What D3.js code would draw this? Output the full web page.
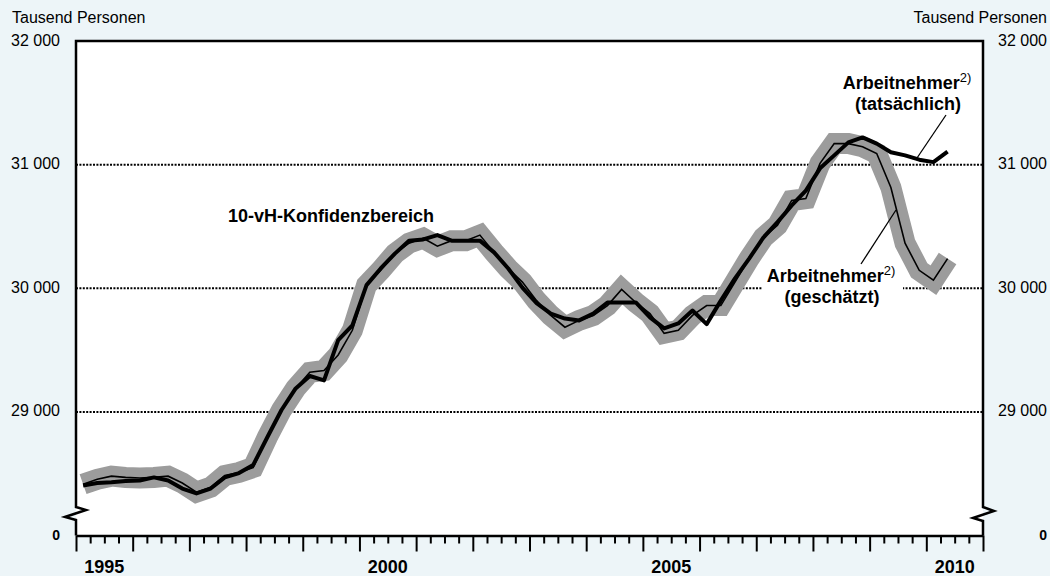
<!DOCTYPE html>
<html>
<head>
<meta charset="utf-8">
<script src="https://cdn.jsdelivr.net/npm/d3@7"></script>
<style>
  body { margin: 0; background: #edf5f8; }
  svg text { font-family: "Liberation Sans", Arial, sans-serif; fill: #000; }
</style>
</head>
<body>
<div id="chart"></div>
<script>
// quarterly values, thousand persons
var quarters = [
  "1995-1", "1995-2", "1995-3", "1995-4",
  "1996-1", "1996-2", "1996-3", "1996-4",
  "1997-1", "1997-2", "1997-3", "1997-4",
  "1998-1", "1998-2", "1998-3", "1998-4",
  "1999-1", "1999-2", "1999-3", "1999-4",
  "2000-1", "2000-2", "2000-3", "2000-4",
  "2001-1", "2001-2", "2001-3", "2001-4",
  "2002-1", "2002-2", "2002-3", "2002-4",
  "2003-1", "2003-2", "2003-3", "2003-4",
  "2004-1", "2004-2", "2004-3", "2004-4",
  "2005-1", "2005-2", "2005-3", "2005-4",
  "2006-1", "2006-2", "2006-3", "2006-4",
  "2007-1", "2007-2", "2007-3", "2007-4",
  "2008-1", "2008-2", "2008-3", "2008-4",
  "2009-1", "2009-2", "2009-3", "2009-4",
  "2010-1", "2010-2"
];

// Arbeitnehmer (tatsächlich)
var actual = [
  28405, 28425, 28430, 28440,
  28445, 28470, 28445, 28380,
  28340, 28380, 28470, 28505,
  28570, 28795, 29015, 29190,
  29290, 29255, 29580, 29700,
  30025, 30160, 30280, 30385,
  30395, 30430, 30385, 30385,
  30385, 30290, 30160, 30005,
  29880, 29795, 29755, 29740,
  29795, 29885, 29885, 29885,
  29765, 29675, 29715, 29820,
  29710, 29900, 30080, 30240,
  30410, 30535, 30670, 30790,
  30970, 31075, 31180, 31220,
  31170, 31100, 31075, 31040,
  31020, 31105
];

// Arbeitnehmer (geschätzt), centre of the 10-vH band
var estimated = [
  28415, 28455, 28480, 28470,
  28465, 28470, 28480, 28425,
  28350, 28390, 28485, 28510,
  28550, 28795, 29015, 29190,
  29320, 29335, 29460, 29660,
  30025, 30145, 30280, 30365,
  30405, 30340, 30385, 30385,
  30430, 30290, 30160, 30050,
  29900, 29780, 29685, 29740,
  29780, 29860, 29990, 29885,
  29795, 29635, 29660, 29780,
  29860, 29860, 30050, 30240,
  30410, 30510, 30710, 30725,
  31010, 31170, 31170, 31145,
  31090, 30815, 30365, 30145,
  30065, 30240
];

var gridValues = [29000, 30000, 31000];
var yTickValues = [29000, 30000, 31000, 32000];
var yearLabels = [1995, 2000, 2005, 2010];

(function () {
  'use strict';

  var firstYear = 1995, lastYear = 2011;
  var yBase = 28000, yTop = 32000;

  var width = 1050, height = 576;
  var plot = { left: 76, right: 983, top: 41, bottom: 535.5 };

  var svg = d3.select("#chart").append("svg")
    .attr("width", width)
    .attr("height", height);

  svg.append("rect")
    .attr("width", width)
    .attr("height", height)
    .attr("fill", "#edf5f8");

  var x = d3.scaleLinear().domain([firstYear, lastYear]).range([plot.left, plot.right]);
  var y = d3.scaleLinear().domain([yBase, yTop]).range([plot.bottom, plot.top]);

  var de = d3.formatLocale({ decimal: ",", thousands: " ", grouping: [3], currency: ["", " €"] });
  var fmt = de.format(",");

  function qx(q) {
    var p = q.split("-");
    return x(+p[0] + (+p[1] - 0.5) / 4);
  }

  svg.append("rect")
    .attr("x", plot.left)
    .attr("y", plot.top)
    .attr("width", plot.right - plot.left)
    .attr("height", plot.bottom - plot.top)
    .attr("fill", "#fff");

  // dotted grid
  svg.append("g").selectAll("line")
    .data(gridValues)
    .enter().append("line")
    .attr("x1", plot.left)
    .attr("x2", plot.right)
    .attr("y1", function(d) { return y(d); })
    .attr("y2", function(d) { return y(d); })
    .attr("stroke", "#000")
    .attr("stroke-width", 2)
    .attr("stroke-dasharray", "2,1.4");

  // white box behind lower label
  svg.append("rect")
    .attr("x", 762)
    .attr("y", 264)
    .attr("width", 141)
    .attr("height", 44)
    .attr("fill", "#fff");

  var line = d3.line()
    .x(function(d, i) { return qx(quarters[i]); })
    .y(function(d) { return y(d); });

  // confidence band
  svg.append("path")
    .datum(estimated)
    .attr("d", line)
    .attr("fill", "none")
    .attr("stroke", "#9c9c9c")
    .attr("stroke-width", 21)
    .attr("stroke-linejoin", "miter")
    .attr("stroke-miterlimit", 2.5);

  svg.append("path")
    .datum(estimated)
    .attr("d", line)
    .attr("fill", "none")
    .attr("stroke", "#000")
    .attr("stroke-width", 1.6);

  svg.append("path")
    .datum(actual)
    .attr("d", line)
    .attr("fill", "none")
    .attr("stroke", "#000")
    .attr("stroke-width", 4)
    .attr("stroke-linejoin", "round");

  // frame with axis breaks
  var frame = "M" + plot.left + "," + plot.bottom + "V520L" + (plot.left - 11) + ",517L" + (plot.left + 10) + ",510L" + plot.left + ",507V" + plot.top +
    "H" + plot.right + "V507L" + (plot.right + 11) + ",511L" + (plot.right - 10) + ",518L" + plot.right + ",521V" + plot.bottom;
  svg.append("path")
    .attr("d", frame)
    .attr("fill", "none")
    .attr("stroke", "#000")
    .attr("stroke-width", 2.5);

  // x axis: quarterly minor ticks, yearly major ticks
  var minorTicks = d3.range(firstYear * 4, lastYear * 4 + 1).map(function(d) { return d / 4; })
    .filter(function(d) { return d % 1 !== 0; });
  var majorTicks = d3.range(firstYear, lastYear + 1);

  var xMinor = d3.axisBottom(x).tickValues(minorTicks).tickSize(8).tickSizeOuter(0).tickFormat("");
  var xMajor = d3.axisBottom(x).tickValues(majorTicks).tickSize(16).tickSizeOuter(0).tickFormat("");

  svg.append("g")
    .attr("transform", "translate(0," + plot.bottom + ")")
    .call(xMinor)
    .call(function(g) { g.select(".domain").attr("stroke-width", 2.5); g.selectAll(".tick line").attr("stroke-width", 2); });

  svg.append("g")
    .attr("transform", "translate(0," + plot.bottom + ")")
    .call(xMajor)
    .call(function(g) { g.select(".domain").remove(); g.selectAll(".tick line").attr("stroke-width", 2); });

  svg.append("g").selectAll("text")
    .data(yearLabels)
    .enter().append("text")
    .attr("x", function(d) { return x(d + 0.5); })
    .attr("y", 573)
    .attr("text-anchor", "middle")
    .style("font-size", "18px")
    .style("font-weight", "bold")
    .text(function(d) { return d; });

  // y labels both sides
  [60, 1047].forEach(function(lx) {
    var g = svg.append("g");
    g.selectAll("text")
      .data(yTickValues)
      .enter().append("text")
      .attr("x", lx)
      .attr("y", function(d) { return y(d) - 1; })
      .attr("dy", "0.35em")
      .attr("text-anchor", "end")
      .style("font-size", "16px")
      .text(function(d) { return fmt(d); });
    g.append("text")
      .attr("x", lx)
      .attr("y", y(yBase))
      .attr("dy", "0.35em")
      .attr("text-anchor", "end")
      .style("font-size", "14px")
      .style("font-weight", "bold")
      .text("0");
  });

  svg.append("text")
    .attr("x", 12)
    .attr("y", 23)
    .style("font-size", "16px")
    .text("Tausend Personen");
  svg.append("text")
    .attr("x", 1047)
    .attr("y", 23)
    .attr("text-anchor", "end")
    .style("font-size", "16px")
    .text("Tausend Personen");

  // annotations
  function label(cx, cy, second) {
    var t = svg.append("text")
      .attr("x", cx)
      .attr("y", cy)
      .attr("text-anchor", "middle")
      .style("font-size", "18px")
      .style("font-weight", "bold");
    t.append("tspan").text("Arbeitnehmer");
    t.append("tspan")
      .attr("dy", -7)
      .style("font-size", "13px")
      .style("font-weight", "normal")
      .text("2)");
    svg.append("text")
      .attr("x", cx + 1)
      .attr("y", cy + 21)
      .attr("text-anchor", "middle")
      .style("font-size", "18px")
      .style("font-weight", "bold")
      .text(second);
  }
  label(907, 89, "(tatsächlich)");
  label(831, 282, "(geschätzt)");

  svg.append("line")
    .attr("x1", 946).attr("y1", 115)
    .attr("x2", 917).attr("y2", 158)
    .attr("stroke", "#000").attr("stroke-width", 1.3);
  svg.append("line")
    .attr("x1", 861).attr("y1", 264)
    .attr("x2", 896).attr("y2", 210)
    .attr("stroke", "#000").attr("stroke-width", 1.3);

  svg.append("text")
    .attr("x", 331)
    .attr("y", 222)
    .attr("text-anchor", "middle")
    .style("font-size", "18px")
    .style("font-weight", "bold")
    .text("10-vH-Konfidenzbereich");
})();
</script>
</body>
</html>
